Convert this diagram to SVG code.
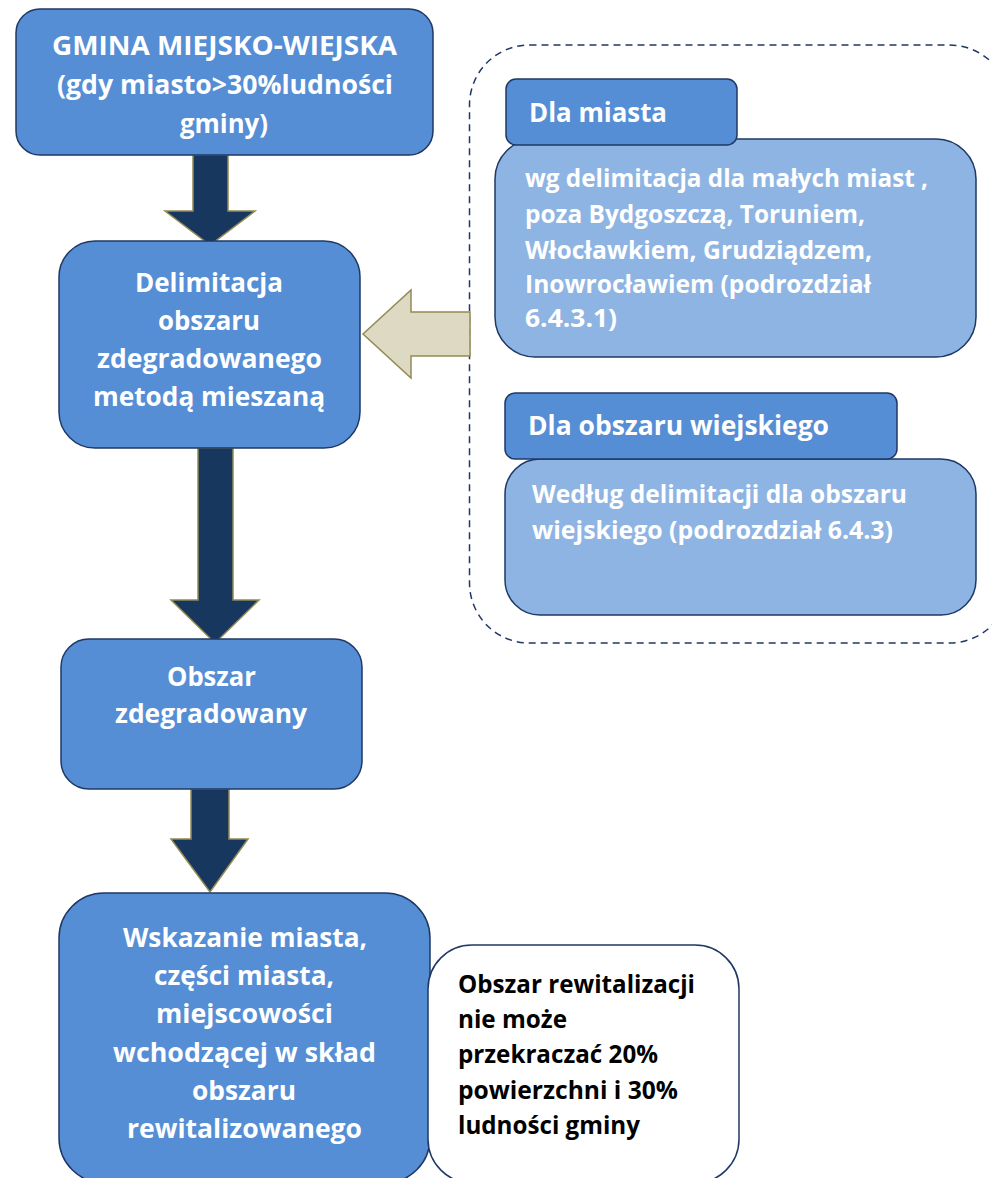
<svg xmlns="http://www.w3.org/2000/svg" width="992" height="1178" viewBox="0 0 992 1178">
<style>
.n{fill:#558ED5;stroke:#1F3864;stroke-width:1.5}
.l{fill:#8EB4E3;stroke:#1F3864;stroke-width:1.5}
.w{fill:#FFFFFF;stroke:#1F3864;stroke-width:1.5}
.t{font-family:"Open Sans","Noto Sans","DejaVu Sans",sans-serif;font-weight:700;fill:#FFFFFF}
.k{fill:#000000}
.c{text-anchor:middle}
.arr{fill:#17375E;stroke:#948A54;stroke-width:1.5}
.bg{fill:#DDD9C3;stroke:#948A54;stroke-width:1.5}
.dash{fill:none;stroke:#1F3864;stroke-width:1.5;stroke-dasharray:7 5}
</style>
<rect width="992" height="1178" fill="#FFFFFF"/>

<g id="grupa-zewnetrzna">
<rect class="dash" x="469.5" y="45" width="540" height="598" rx="60"/>
</g>

<g id="connectors">
<polygon class="arr" points="193,155 228,155 228,211 255,211 210,245 165,211 193,211"/>
<polygon class="arr" points="198,448 233,448 233,600 259,600 215,643 171,600 198,600"/>
<polygon class="arr" points="191,789 229,789 229,839 248,839 210,892 171,839 191,839"/>
<polygon class="bg" points="470,312 411,312 411,290 363,334 411,378 411,356 470,356"/>
</g>

<g id="gmina">
<rect class="n" x="16" y="9" width="417" height="146" rx="24"/>
<text class="t c" font-size="27" x="224.5" y="55" textLength="345" lengthAdjust="spacingAndGlyphs">GMINA MIEJSKO-WIEJSKA</text>
<text class="t c" font-size="27" x="225" y="94" textLength="336" lengthAdjust="spacingAndGlyphs">(gdy miasto&gt;30%ludności</text>
<text class="t c" font-size="27" x="224" y="133" textLength="88" lengthAdjust="spacingAndGlyphs">gminy)</text>
</g>

<g id="delimitacja">
<rect class="n" x="59" y="241" width="301" height="207" rx="36"/>
<text class="t c" font-size="27" x="209" y="292" textLength="148" lengthAdjust="spacingAndGlyphs">Delimitacja</text>
<text class="t c" font-size="27" x="209" y="330" textLength="102" lengthAdjust="spacingAndGlyphs">obszaru</text>
<text class="t c" font-size="27" x="209.5" y="368" textLength="225" lengthAdjust="spacingAndGlyphs">zdegradowanego</text>
<text class="t c" font-size="27" x="209" y="406" textLength="232" lengthAdjust="spacingAndGlyphs">metodą mieszaną</text>
</g>

<g id="dla-miasta">
<rect class="l" x="495" y="139" width="481" height="218" rx="40"/>
<rect class="n" x="506" y="79" width="231" height="66" rx="10"/>
<text class="t" font-size="26" x="529" y="122" textLength="138" lengthAdjust="spacingAndGlyphs">Dla miasta</text>
<text class="t" font-size="25" x="525" y="187" textLength="403" lengthAdjust="spacingAndGlyphs">wg delimitacja dla małych miast ,</text>
<text class="t" font-size="25" x="525" y="223" textLength="340" lengthAdjust="spacingAndGlyphs">poza Bydgoszczą, Toruniem,</text>
<text class="t" font-size="25" x="525" y="259" textLength="347" lengthAdjust="spacingAndGlyphs">Włocławkiem, Grudziądzem,</text>
<text class="t" font-size="25" x="525" y="293" textLength="346" lengthAdjust="spacingAndGlyphs">Inowrocławiem (podrozdział</text>
<text class="t" font-size="25" x="525" y="327" textLength="92" lengthAdjust="spacingAndGlyphs">6.4.3.1)</text>
</g>

<g id="dla-obszaru-wiejskiego">
<rect class="l" x="505" y="459" width="471" height="156" rx="35"/>
<rect class="n" x="505" y="393" width="392" height="66" rx="10"/>
<text class="t" font-size="26" x="528" y="435" textLength="301" lengthAdjust="spacingAndGlyphs">Dla obszaru wiejskiego</text>
<text class="t" font-size="25" x="532" y="503" textLength="375" lengthAdjust="spacingAndGlyphs">Według delimitacji dla obszaru</text>
<text class="t" font-size="25" x="532" y="539" textLength="361" lengthAdjust="spacingAndGlyphs">wiejskiego (podrozdział 6.4.3)</text>
</g>

<g id="obszar-zdegradowany">
<rect class="n" x="61" y="639" width="301" height="150" rx="28"/>
<text class="t c" font-size="27" x="211.5" y="686" textLength="89" lengthAdjust="spacingAndGlyphs">Obszar</text>
<text class="t c" font-size="27" x="211" y="723" textLength="192" lengthAdjust="spacingAndGlyphs">zdegradowany</text>
</g>

<g id="wskazanie">
<rect class="n" x="59" y="893" width="371" height="290" rx="45"/>
<text class="t c" font-size="27" x="245" y="947" textLength="244" lengthAdjust="spacingAndGlyphs">Wskazanie miasta,</text>
<text class="t c" font-size="27" x="244" y="985" textLength="180" lengthAdjust="spacingAndGlyphs">części miasta,</text>
<text class="t c" font-size="27" x="244.5" y="1023" textLength="177" lengthAdjust="spacingAndGlyphs">miejscowości</text>
<text class="t c" font-size="27" x="244.5" y="1062" textLength="263" lengthAdjust="spacingAndGlyphs">wchodzącej w skład</text>
<text class="t c" font-size="27" x="244" y="1100" textLength="104" lengthAdjust="spacingAndGlyphs">obszaru</text>
<text class="t c" font-size="27" x="244.5" y="1138" textLength="235" lengthAdjust="spacingAndGlyphs">rewitalizowanego</text>
</g>

<g id="uwaga">
<rect class="w" x="428" y="945" width="311" height="238" rx="44"/>
<text class="t k" font-size="25" x="458" y="993" textLength="237" lengthAdjust="spacingAndGlyphs">Obszar rewitalizacji</text>
<text class="t k" font-size="25" x="458" y="1028" textLength="109" lengthAdjust="spacingAndGlyphs">nie może</text>
<text class="t k" font-size="25" x="458" y="1063" textLength="200" lengthAdjust="spacingAndGlyphs">przekraczać 20%</text>
<text class="t k" font-size="25" x="458" y="1099" textLength="220" lengthAdjust="spacingAndGlyphs">powierzchni i 30%</text>
<text class="t k" font-size="25" x="458" y="1134" textLength="182" lengthAdjust="spacingAndGlyphs">ludności gminy</text>
</g>
</svg>
